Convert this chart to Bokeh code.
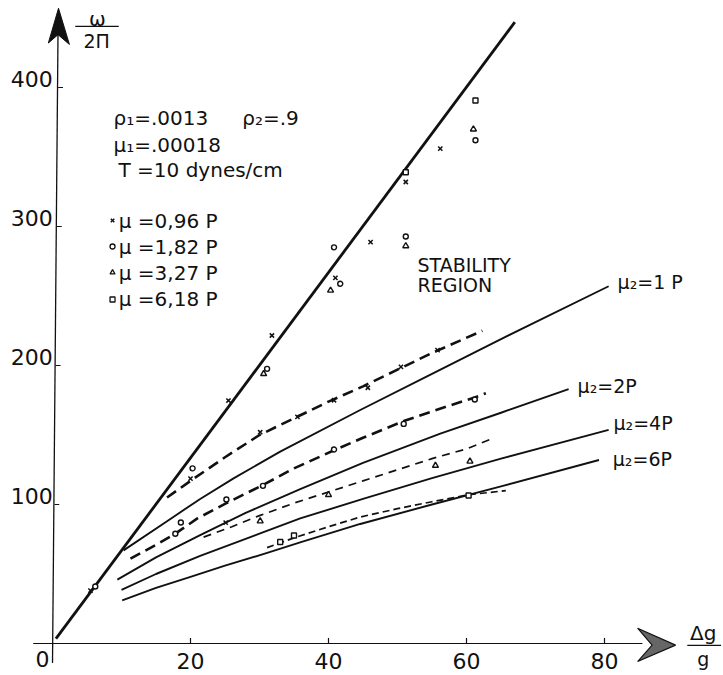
from bokeh.plotting import figure
from bokeh.models import Range1d
from bokeh.core.properties import value
from bokeh.embed import file_html
from bokeh.resources import INLINE

# ---------------- data ----------------
x_ticks = [20, 40, 60, 80]
y_ticks = [100, 200, 300, 400]

# neutral-stability straight line
line_x = [0.5, 67.0]
line_y = [3.5, 447.0]

# theoretical curves mu2 = 1, 2, 4, 6 P
c1_x = [10.3, 16.6, 21.4, 26.3, 33.0, 44.6, 55.0, 65.0, 80.6]
c1_y = [67, 88, 104, 119, 138, 168, 194, 219, 257]
c2_x = [9.4, 15.0, 21.4, 28.0, 35.9, 45.0, 56.2, 65.0, 74.8]
c2_y = [46, 62, 78, 94, 111, 130, 151, 166, 183]
c4_x = [10.0, 15.0, 21.4, 30.0, 35.9, 45.0, 55.0, 65.0, 80.6]
c4_y = [38.6, 50, 63, 79, 90, 104, 119, 133, 153.7]
c6_x = [10.1, 15.0, 20.0, 25.0, 31.0, 36.0, 44.6, 55.0, 65.0, 79.2]
c6_y = [31, 40, 48, 56, 65, 73, 86, 100, 113, 132]

# experimental dashed curves
d096_x = [16.6, 20, 25, 30, 35, 40, 45, 50, 55, 62.3]
d096_y = [105, 117, 134, 150, 162, 174, 185, 197, 209, 225]
d182_x = [11.3, 15, 17.8, 21, 25.2, 30.5, 35, 40.8, 45, 50.9, 55, 61.2, 62.8]
d182_y = [61, 71, 79, 90, 101, 114, 126, 139, 148, 160, 167, 177, 180]
d327_x = [21.9, 26, 30, 35, 40, 45, 50, 55, 60, 63.5]
d327_y = [76.5, 84, 92, 101, 109, 117, 125, 133, 140, 147]
d618_x = [31.1, 35, 40, 44.6, 50, 55, 60.3, 65.7]
d618_y = [69, 76, 84, 91, 97, 102, 107, 110]

# measured points
m096_x = [5.5, 20.0, 25.1, 25.5, 30.1, 31.8, 35.5, 40.8, 41.0, 45.7, 46.1, 50.5, 51.2, 55.8, 56.2]
m096_y = [38, 118.6, 87, 174.8, 152, 221.6, 163, 175, 263, 184, 288.7, 199, 332, 211, 356]
m182_x = [6.2, 17.8, 18.6, 20.3, 25.2, 30.5, 31.1, 40.8, 40.8, 41.7, 50.9, 51.2, 61.2, 61.3]
m182_y = [41, 79, 87, 126, 103.6, 113.4, 197.6, 139.6, 285, 258.8, 158, 292.8, 175.5, 362]
m327_x = [30.1, 30.6, 40.0, 40.3, 51.2, 55.5, 60.5, 61.0]
m327_y = [88, 194, 107, 254, 286, 128, 131, 370]
m618_x = [33.0, 35.0, 51.2, 60.3, 61.3]
m618_y = [73, 77.7, 339, 106.5, 390.6]

legend_labels = ["\u03bc =0,96  P", "\u03bc =1,82  P", "\u03bc =3,27  P", "\u03bc =6,18  P"]
curve_labels = ["\u03bc\u2082=1 P", "\u03bc\u2082=2P", "\u03bc\u2082=4P", "\u03bc\u2082=6P"]

# ---------------- figure ----------------
PX_X = 6.9    # px per x unit
PX_Y = 1.39   # px per y unit
X0, Y0 = 52, 643  # pixel position of origin
W, H = 723, 675

p = figure(width=W, height=H, output_backend="svg", toolbar_location=None,
           x_axis_location=None, y_axis_location=None,
           x_range=Range1d(-X0 / PX_X, (W - X0) / PX_X),
           y_range=Range1d(-(H - Y0) / PX_Y, Y0 / PX_Y),
           min_border=0, outline_line_color=None)
p.grid.visible = False
p.background_fill_color = "white"
p.border_fill_color = "white"

FONT = value("DejaVu Sans")
INK = "#111111"

# axes drawn in data space
p.line([-2.8, 85.5], [0, 0], line_color=INK, line_width=1.2)
p.line([0, 0.8], [-14, 440], line_color=INK, line_width=1.3)
# y arrowhead
p.patch([0.87, -0.6, 0.8, 2.45], [457, 432, 438, 431], fill_color=INK, line_color=INK)
# x arrowhead (hatched in original)
p.patch([90.3, 84.8, 86.9, 84.8], [-1.2, 11, -1.2, -13], fill_color="#666666",
        line_color=INK, line_width=1.2)

# ticks
p.segment(x0=x_ticks, y0=[0] * 4, x1=x_ticks, y1=[4] * 4, line_color=INK, line_width=1.2)
p.segment(x0=[0.1 + t * 0.0018 for t in y_ticks], y0=y_ticks,
          x1=[0.8 + t * 0.0018 for t in y_ticks], y1=y_ticks, line_color=INK, line_width=1.2)

# tick labels
p.text(x=x_ticks, y=[-12.5] * 4, text=[str(t) for t in x_ticks], text_font=FONT,
       text_font_size="22px", text_align="center", text_baseline="middle", text_color=INK)
p.text(x=[-1.45], y=[-11], text=["0"], text_font=FONT, text_font_size="22px",
       text_align="center", text_baseline="middle", text_color=INK)
p.text(x=[0.05] * 4, y=[t + 6 for t in y_ticks], text=[str(t) for t in y_ticks], text_font=FONT,
       text_font_size="22px", text_align="right", text_baseline="middle", text_color=INK)

# axis titles (fractions)
p.text(x=[6.5], y=[449], text=["\u03c9"], text_font=FONT, text_font_size="20px",
       text_align="center", text_baseline="middle", text_color=INK)
p.line([3.3, 9.6], [444, 444], line_color=INK, line_width=1.2)
p.text(x=[6.4], y=[433.5], text=["2\u03a0"], text_font=FONT, text_font_size="19px",
       text_align="center", text_baseline="middle", text_color=INK)
p.text(x=[94.3], y=[7.2], text=["\u0394g"], text_font=FONT, text_font_size="20px",
       text_align="center", text_baseline="middle", text_color=INK)
p.line([92.0, 96.9], [-1.4, -1.4], line_color=INK, line_width=1.2)
p.text(x=[94.3], y=[-11.5], text=["g"], text_font=FONT, text_font_size="19px",
       text_align="center", text_baseline="middle", text_color=INK)

# main straight line and theoretical curves
p.line(line_x, line_y, line_color=INK, line_width=2.8)
for cx, cy in [(c1_x, c1_y), (c2_x, c2_y), (c4_x, c4_y), (c6_x, c6_y)]:
    p.line(cx, cy, line_color=INK, line_width=1.9, line_join="round")

# dashed experimental curves
p.line(d096_x, d096_y, line_color=INK, line_width=2.6, line_dash="11 6")
p.line(d182_x, d182_y, line_color=INK, line_width=2.6, line_dash="11 6")
p.line(d327_x, d327_y, line_color=INK, line_width=1.7, line_dash="8 6")
p.line(d618_x, d618_y, line_color=INK, line_width=1.7, line_dash="7 4")

# measured points
p.scatter(m096_x, m096_y, marker="x", size=6, line_color=INK, line_width=1.5)
p.scatter(m182_x, m182_y, marker="circle", size=5, line_color=INK, fill_color="white", line_width=1.4)
p.scatter(m327_x, m327_y, marker="triangle", size=6, line_color=INK, fill_color="white", line_width=1.4)
p.scatter(m618_x, m618_y, marker="square", size=5, line_color=INK, fill_color="white", line_width=1.4)

# parameter block
p.text(x=[8.84, 27.5, 8.84, 9.57], y=[378.4, 378.4, 358.3, 340.3],
       text=["\u03c1\u2081=.0013", "\u03c1\u2082=.9", "\u03bc\u2081=.00018", "T =10  dynes/cm"],
       text_font=FONT, text_font_size="20px", text_align="left", text_baseline="middle",
       text_color=INK)

# legend
leg_y = [304.3, 285.6, 266.9, 247.5]
p.scatter([8.7], [leg_y[0]], marker="x", size=5, line_color=INK, line_width=1.4)
p.scatter([8.7], [leg_y[1]], marker="circle", size=5, line_color=INK, fill_color="white", line_width=1.3)
p.scatter([8.7], [leg_y[2]], marker="triangle", size=5, line_color=INK, fill_color="white", line_width=1.3)
p.scatter([8.7], [leg_y[3]], marker="square", size=5, line_color=INK, fill_color="white", line_width=1.3)
p.text(x=[9.6] * 4, y=leg_y, text=legend_labels, text_font=FONT, text_font_size="20px",
       text_align="left", text_baseline="middle", text_color=INK)

# region label and curve labels
p.text(x=[52.9, 52.9], y=[272, 257.6], text=["STABILITY", "REGION"], text_font=FONT,
       text_font_size="19px", text_align="left", text_baseline="middle", text_color=INK)
p.text(x=[81.9, 76.1, 81.3, 81.2], y=[260.4, 185.6, 158.3, 132.4], text=curve_labels,
       text_font=FONT, text_font_size="19px", text_align="left", text_baseline="middle",
       text_color=INK)

open("out.html", "w").write(file_html(p, INLINE))
